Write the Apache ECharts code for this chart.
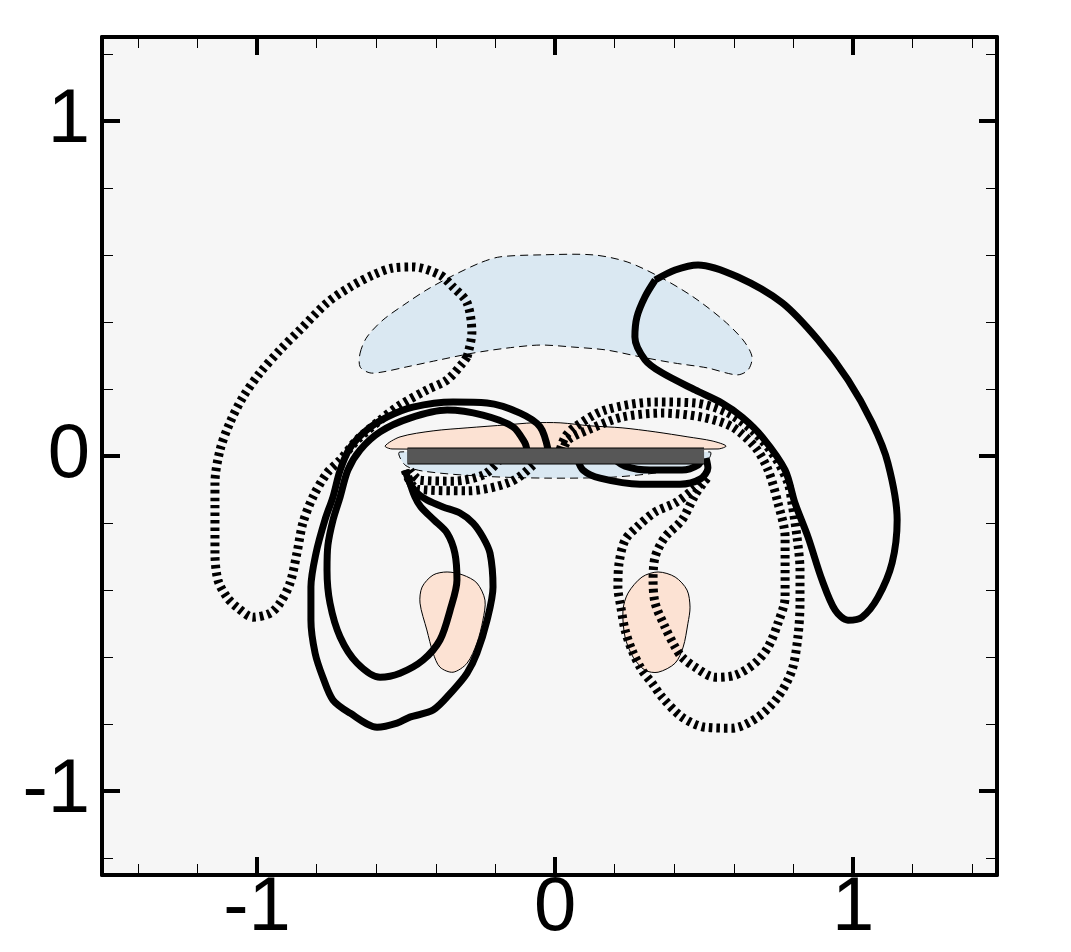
<!DOCTYPE html>
<html>
<head>
<meta charset="utf-8">
<script src="https://cdn.jsdelivr.net/npm/echarts@6/dist/echarts.min.js"></script>
<style>
  html, body { margin: 0; padding: 0; background: #fff; }
  #chart { width: 1071px; height: 952px; }
</style>
</head>
<body>
<div id="chart"></div>
<script>
// axis ticks
var xMajor = [-1, 0, 1]
var xMinor = [-1.4, -1.2, -0.8, -0.6, -0.4, -0.2, 0.2, 0.4, 0.6, 0.8, 1.2, 1.4]
var yMajor = [-1, 0, 1]
var yMinor = [-1.2, -0.8, -0.6, -0.4, -0.2, 0.2, 0.4, 0.6, 0.8, 1.2]

// filled regions (blue = negative, salmon = positive)
var blueTop = [[-0.654, 0.307], [-0.631, 0.355], [-0.577, 0.406], [-0.497, 0.457], [-0.430, 0.496], [-0.352, 0.534],
  [-0.252, 0.576], [-0.185, 0.594], [-0.050, 0.600], [0.128, 0.600], [0.242, 0.579], [0.352, 0.534], [0.463, 0.475],
  [0.564, 0.406], [0.631, 0.346], [0.661, 0.296], [0.648, 0.257], [0.611, 0.242], [0.510, 0.263], [0.396, 0.278],
  [0.285, 0.296], [0.174, 0.316], [0.060, 0.325], [-0.050, 0.331], [-0.161, 0.322], [-0.275, 0.307], [-0.386, 0.287],
  [-0.497, 0.266], [-0.577, 0.251], [-0.621, 0.248], [-0.654, 0.266]]
var blueUnder = [[-0.520, 0.012], [-0.503, -0.027], [-0.443, -0.045], [-0.252, -0.060], [-0.027, -0.066], [0.195, -0.063],
  [0.362, -0.048], [0.453, -0.033], [0.513, -0.012], [0.520, 0.012]]
var salmonWing = [[-0.570, 0.030], [-0.520, 0.057], [-0.409, 0.075], [-0.295, 0.084], [-0.161, 0.093], [-0.074, 0.099],
  [0.017, 0.099], [0.117, 0.090], [0.225, 0.084], [0.336, 0.072], [0.446, 0.057], [0.527, 0.045], [0.574, 0.030],
  [0.547, 0.021], [-0.547, 0.021]]
var salmonLeft = [[-0.362, -0.346], [-0.309, -0.355], [-0.262, -0.379], [-0.235, -0.430], [-0.242, -0.490], [-0.262, -0.558],
  [-0.295, -0.618], [-0.342, -0.645], [-0.386, -0.630], [-0.409, -0.588], [-0.430, -0.519], [-0.453, -0.439],
  [-0.446, -0.391], [-0.409, -0.355]]
var salmonRight = [[0.346, -0.346], [0.403, -0.361], [0.443, -0.400], [0.453, -0.451], [0.446, -0.499], [0.430, -0.570],
  [0.403, -0.618], [0.346, -0.645], [0.302, -0.639], [0.262, -0.600], [0.235, -0.540], [0.228, -0.460],
  [0.245, -0.409], [0.292, -0.361]]

// solid contours
var solidRight = [[0.336, 0.525], [0.403, 0.555], [0.480, 0.570], [0.614, 0.534], [0.762, 0.457], [0.883, 0.346],
  [0.983, 0.227], [1.064, 0.099], [1.117, -0.021], [1.148, -0.191], [1.131, -0.319], [1.084, -0.421], [1.030, -0.481],
  [0.983, -0.490], [0.940, -0.460], [0.896, -0.370], [0.849, -0.242], [0.805, -0.140], [0.772, -0.042], [0.695, 0.057],
  [0.628, 0.116], [0.560, 0.158], [0.470, 0.197], [0.359, 0.248], [0.302, 0.287], [0.268, 0.355], [0.275, 0.415],
  [0.302, 0.475], [0.336, 0.525]]
var solidLeftOuter = [[-0.023, 0.018], [-0.050, 0.087], [-0.117, 0.128], [-0.228, 0.158], [-0.342, 0.161], [-0.477, 0.146],
  [-0.564, 0.116], [-0.631, 0.078], [-0.688, 0.024], [-0.721, -0.042], [-0.745, -0.122], [-0.772, -0.191],
  [-0.802, -0.290], [-0.819, -0.391], [-0.819, -0.490], [-0.805, -0.588], [-0.779, -0.660], [-0.745, -0.728],
  [-0.688, -0.767], [-0.597, -0.809], [-0.530, -0.797], [-0.487, -0.779], [-0.409, -0.758], [-0.342, -0.699],
  [-0.295, -0.648], [-0.262, -0.588], [-0.228, -0.490], [-0.208, -0.391], [-0.218, -0.290], [-0.242, -0.242],
  [-0.275, -0.200], [-0.319, -0.170], [-0.376, -0.152], [-0.430, -0.131], [-0.463, -0.110], [-0.487, -0.081],
  [-0.503, -0.042]]
var solidLeftInner = [[-0.094, 0.018], [-0.101, 0.039], [-0.141, 0.087], [-0.242, 0.122], [-0.362, 0.137], [-0.487, 0.113],
  [-0.587, 0.072], [-0.654, 0.018], [-0.695, -0.042], [-0.721, -0.122], [-0.745, -0.191], [-0.762, -0.266],
  [-0.765, -0.340], [-0.755, -0.439], [-0.721, -0.540], [-0.664, -0.618], [-0.587, -0.660], [-0.520, -0.648],
  [-0.443, -0.609], [-0.386, -0.549], [-0.352, -0.460], [-0.329, -0.370], [-0.336, -0.290], [-0.362, -0.230],
  [-0.406, -0.191], [-0.450, -0.152], [-0.470, -0.122], [-0.490, -0.072]]
var solidBelowA = [[0.074, -0.006], [0.094, -0.042], [0.151, -0.066], [0.285, -0.084], [0.419, -0.084], [0.487, -0.069],
  [0.513, -0.036], [0.507, -0.006]]
var solidBelowB = [[0.195, -0.006], [0.235, -0.030], [0.319, -0.042], [0.426, -0.042], [0.480, -0.027], [0.493, -0.006]]

// dashed contours
var dashedLeft = [[-0.295, 0.296], [-0.279, 0.367], [-0.295, 0.457], [-0.342, 0.504], [-0.386, 0.540], [-0.477, 0.564],
  [-0.544, 0.561], [-0.611, 0.540], [-0.688, 0.504], [-0.765, 0.457], [-0.856, 0.376], [-0.923, 0.316], [-0.990, 0.248],
  [-1.047, 0.176], [-1.091, 0.099], [-1.124, 0.018], [-1.141, -0.081], [-1.141, -0.140], [-1.141, -0.290],
  [-1.131, -0.370], [-1.101, -0.421], [-1.067, -0.451], [-1.013, -0.481], [-0.956, -0.469], [-0.923, -0.439],
  [-0.889, -0.379], [-0.866, -0.290], [-0.846, -0.200], [-0.812, -0.122], [-0.765, -0.051], [-0.721, -0.012],
  [-0.664, 0.048], [-0.587, 0.107], [-0.520, 0.152], [-0.430, 0.197], [-0.362, 0.227], [-0.309, 0.278], [-0.295, 0.296]]
var dashedRightOuter = [[0.510, -0.066], [0.463, -0.101], [0.403, -0.140], [0.336, -0.167], [0.275, -0.212], [0.235, -0.251],
  [0.215, -0.319], [0.211, -0.391], [0.221, -0.451], [0.235, -0.519], [0.258, -0.579], [0.292, -0.639], [0.326, -0.678],
  [0.359, -0.719], [0.426, -0.779], [0.503, -0.809], [0.594, -0.812], [0.681, -0.779], [0.748, -0.719], [0.795, -0.639],
  [0.815, -0.540], [0.822, -0.439], [0.822, -0.340], [0.812, -0.242], [0.795, -0.140], [0.782, -0.081], [0.738, -0.003],
  [0.671, 0.069], [0.581, 0.128], [0.470, 0.158], [0.336, 0.161], [0.168, 0.137], [0.067, 0.087], [0.034, 0.057],
  [0.017, 0.018]]
var dashedRightInner = [[0.510, -0.066], [0.470, -0.116], [0.426, -0.191], [0.369, -0.242], [0.336, -0.301], [0.329, -0.370],
  [0.336, -0.439], [0.369, -0.510], [0.403, -0.570], [0.426, -0.600], [0.470, -0.630], [0.537, -0.660], [0.604, -0.654],
  [0.671, -0.618], [0.715, -0.570], [0.748, -0.499], [0.772, -0.421], [0.772, -0.340], [0.772, -0.242], [0.748, -0.140],
  [0.715, -0.042], [0.671, 0.027], [0.594, 0.087], [0.493, 0.116], [0.359, 0.128], [0.225, 0.116], [0.111, 0.078],
  [0.044, 0.048], [0.027, 0.018]]
var dashedBelowA = [[-0.487, -0.042], [-0.453, -0.072], [-0.342, -0.075], [-0.242, -0.057], [-0.195, -0.021], [-0.185, 0.0]]
var dashedBelowB = [[-0.503, -0.042], [-0.463, -0.099], [-0.295, -0.104], [-0.151, -0.078], [-0.074, -0.027], [-0.060, 0.0]]

// the plate
var plate = [[-0.495, 0], [0.5, 0]]

var FONT = "'Liberation Sans', Arial, Helvetica, sans-serif"

function fillRegion (pts, color, dash) {
  return {
    type: 'custom',
    coordinateSystem: 'cartesian2d',
    silent: true,
    z: 1,
    data: [[0, 0]],
    renderItem: function (params, api) {
      return {
        type: 'polygon',
        shape: { points: pts.map(function (p) { return api.coord(p) }), smooth: 0.3 },
        style: { fill: color, stroke: '#000', lineWidth: 1, lineDash: dash }
      }
    }
  }
}

function contour (pts, dashed) {
  return {
    type: 'line',
    data: pts,
    smooth: 0.3,
    symbol: 'none',
    silent: true,
    z: 3,
    lineStyle: dashed
      ? { color: '#000', width: 9, type: [3.5, 4] }
      : { color: '#000', width: 7, type: 'solid' }
  }
}

function axisPair (pos, isX, major, minor, labels) {
  var base = isX ? { min: -1.52, max: 1.483 } : { min: -1.25, max: 1.25 }
  var a = Object.assign({
    type: 'value', position: pos, offset: 0,
    axisLine: { show: true, onZero: false, lineStyle: { color: '#000', width: 4 } },
    axisTick: { show: true, inside: true, length: 18, customValues: major, lineStyle: { color: '#000', width: 4 } },
    axisLabel: labels
      ? { show: true, customValues: major, fontSize: 76, color: '#000', fontFamily: FONT, margin: isX ? -4 : 12 }
      : { show: false },
    splitLine: { show: false }
  }, base)
  var b = Object.assign({
    type: 'value', position: pos, offset: 0,
    axisLine: { show: false, onZero: false },
    axisTick: { show: true, inside: true, length: 11, customValues: minor, lineStyle: { color: '#000', width: 1 } },
    axisLabel: { show: false },
    splitLine: { show: false }
  }, base)
  return [a, b]
}

var chart = echarts.init(document.getElementById('chart'), null, { renderer: 'canvas' })
chart.setOption({
  animation: false,
  backgroundColor: '#ffffff',
  grid: { left: 102, right: 74, top: 37, bottom: 77, show: true, backgroundColor: '#f6f6f6', borderWidth: 0 },
  xAxis: axisPair('bottom', true, xMajor, xMinor, true).concat(axisPair('top', true, xMajor, xMinor, false)),
  yAxis: axisPair('left', false, yMajor, yMinor, true).concat(axisPair('right', false, yMajor, yMinor, false)),
  series: [
    fillRegion(blueTop, '#dae8f2', [8, 5]),
    fillRegion(blueUnder, '#dae8f2', [8, 5]),
    fillRegion(salmonWing, '#fce2d3', null),
    fillRegion(salmonLeft, '#fce2d3', null),
    fillRegion(salmonRight, '#fce2d3', null),
    contour(solidRight, false),
    contour(solidLeftOuter, false),
    contour(solidLeftInner, false),
    contour(solidBelowA, false),
    contour(solidBelowB, false),
    contour(dashedLeft, true),
    contour(dashedRightOuter, true),
    contour(dashedRightInner, true),
    contour(dashedBelowA, true),
    contour(dashedBelowB, true),
    { type: 'line', data: plate, symbol: 'none', silent: true, z: 5, lineStyle: { color: '#000', width: 17, cap: 'butt' } },
    { type: 'line', data: plate, symbol: 'none', silent: true, z: 6, lineStyle: { color: '#575757', width: 15, cap: 'butt' } }
  ]
})
</script>
</body>
</html>
